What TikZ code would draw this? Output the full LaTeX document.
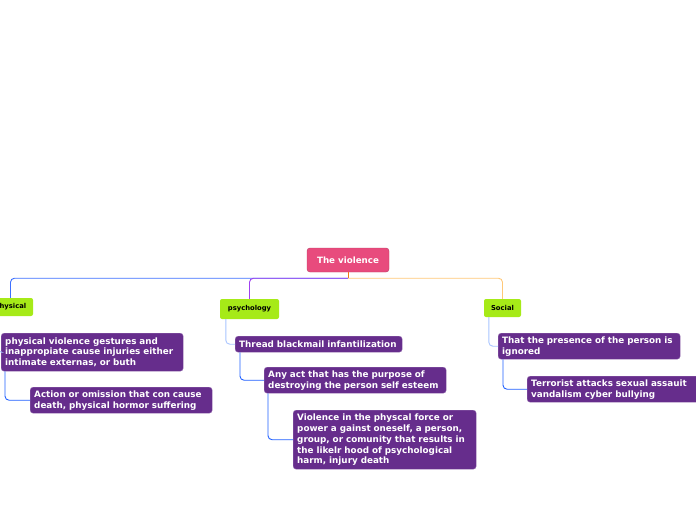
\documentclass[tikz,border=0pt]{standalone}
\usepackage{fontspec}
\setmainfont{DejaVu Sans}
\usetikzlibrary{positioning, calc}
\definecolor{rootPink}{RGB}{232,75,125}
\definecolor{branchGreen}{RGB}{166,234,24}
\definecolor{leafPurple}{RGB}{102,45,140}
\definecolor{lineBlue}{RGB}{61,112,255}
\definecolor{linePurple}{RGB}{160,64,240}
\definecolor{lineOrange}{RGB}{255,200,120}
\definecolor{stemOrange}{RGB}{240,120,20}
\definecolor{lightBlue}{RGB}{168,196,255}
\definecolor{deepBlue}{RGB}{32,96,255}

\begin{document}
\begin{tikzpicture}[
      x=1pt, y=-1pt,
      root/.style={rectangle, fill=rootPink, draw=rootPink!80!black, rounded corners=3pt,
        minimum width=82pt, minimum height=24pt, inner sep=0pt,
        font=\fontsize{8.7}{10}\selectfont\bfseries, text=white},
      branch/.style={rectangle, fill=branchGreen, rounded corners=2pt,
        minimum height=18pt, inner sep=0pt, font=\fontsize{6.8}{8}\selectfont\bfseries},
      leaf/.style={rectangle, fill=leafPurple, draw=leafPurple!70!white, rounded corners=3pt,
        anchor=north west, align=left, inner xsep=4pt, inner ysep=2pt,
        font=\fontsize{8.8}{10.9}\selectfont\bfseries, text=white},
      link/.style={line width=0.9pt, rounded corners=4pt},
      sub/.style={link, lightBlue},
      deep/.style={link, deepBlue}
    ]
    \clip (0,0) rectangle (696,520);
    \useasboundingbox (0,0) rectangle (696,520);

    \node[root] (violence) at (348,260) {The violence};

    \node[branch, minimum width=45pt] (phys) at (10.5,307) {physical};
    \node[branch, minimum width=59pt, minimum height=20pt] (psych) at (249.5,309) {psychology};
    \node[branch, minimum width=37pt] (soc) at (502.5,308) {Social};

    \node[leaf, text width=174pt, minimum height=38pt] (physA) at (1,333)
      {physical violence gestures and\\inappropiate cause injuries either\\intimate externas, or buth};
    \node[leaf, text width=174pt, minimum height=26pt] (physB) at (30,387)
      {Action or omission that con cause\\death, physical hormor suffering};

    \node[leaf, text width=159pt, minimum height=16pt] (psychA) at (235,336)
      {Thread blackmail infantilization};
    \node[leaf, text width=174pt, minimum height=26pt] (psychB) at (264,367)
      {Any act that has the purpose of\\destroying the person self esteem};
    \node[leaf, text width=175pt, minimum height=59pt] (psychC) at (293,410)
      {Violence in the physcal force or\\power a gainst oneself, a person,\\group, or comunity that results in\\the likelr hood of psychological\\harm, injury death};

    \node[leaf, text width=174pt, minimum height=26pt] (socA) at (498,333)
      {That the presence of the person is\\ignored};
    \node[leaf, text width=174pt, minimum height=26pt] (socB) at (527,376)
      {Terrorist attacks sexual assauit\\vandalism cyber bullying};

    \coordinate (fork) at ($(violence.south)+(0,6)$);
    \draw[line width=1pt, stemOrange] (violence.south) -- (fork);
    \draw[link, lineBlue] (fork) -| (phys.north);
    \draw[link, linePurple] (fork) -| (psych.north);
    \draw[link, lineOrange] (fork) -| (soc.north);

    \draw[sub] ([xshift=10pt]phys.south west) |- (physA.west);
    \draw[deep] ([xshift=4pt]physA.south west) |- (physB.west);

    \draw[sub] ([xshift=6pt]psych.south west) |- (psychA.west);
    \draw[deep] ([xshift=5pt]psychA.south west) |- (psychB.west);
    \draw[deep] ([xshift=4pt]psychB.south west) |- (psychC.west);

    \draw[sub] ([xshift=5pt]soc.south west) |- (socA.west);
    \draw[deep] ([xshift=5pt]socA.south west) |- (socB.west);
  \end{tikzpicture}
\end{document}
